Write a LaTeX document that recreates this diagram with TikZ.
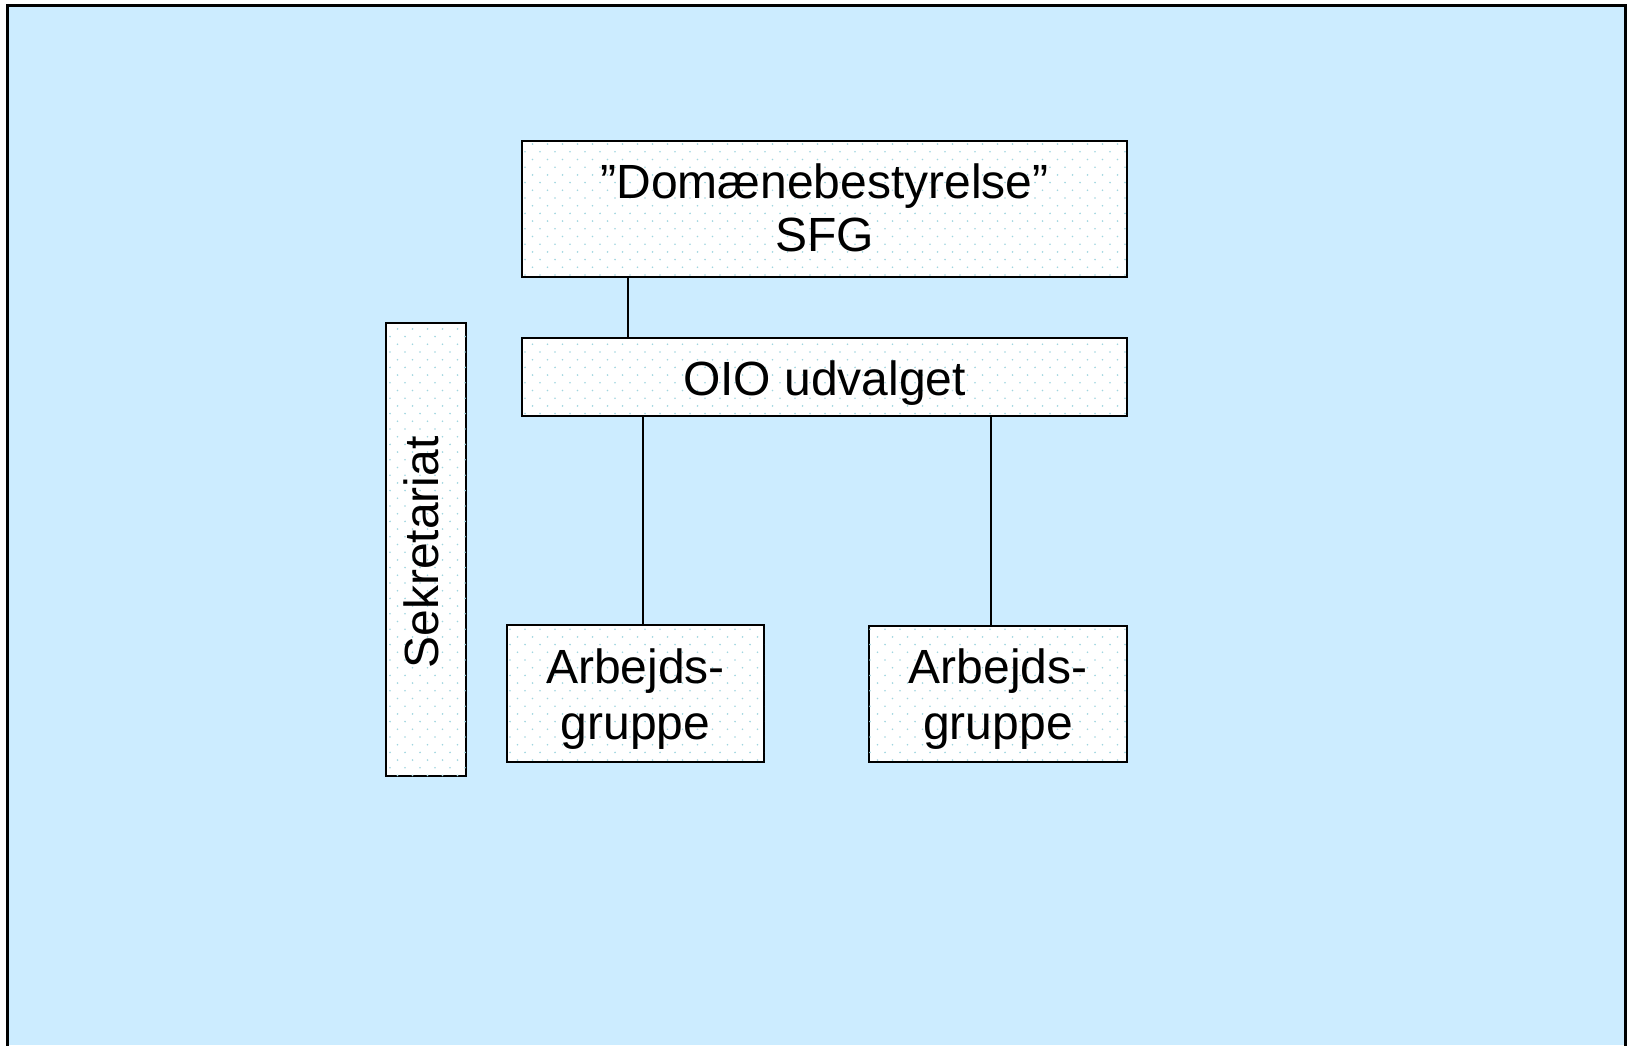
\documentclass[tikz,border=0pt]{standalone}
\usepackage{fontspec}
\setmainfont{Liberation Sans}
\usetikzlibrary{patterns,calc}
\definecolor{bgblue}{RGB}{204,236,255}
\definecolor{dotcol}{RGB}{160,214,224}
\pgfdeclarepatternformonly{sparsedots}{\pgfqpoint{-1pt}{-1pt}}{\pgfqpoint{14pt}{14.4pt}}{\pgfqpoint{15pt}{15.4pt}}{%
  \pgfpathcircle{\pgfqpoint{0pt}{0pt}}{0.9pt}%
  \pgfpathcircle{\pgfqpoint{7.5pt}{7.7pt}}{0.9pt}%
  \pgfusepath{fill}}
\begin{document}
\begin{tikzpicture}[x=1pt,y=-1pt,
  box/.style={draw=black, line width=2pt, fill=white,
    postaction={pattern=sparsedots, pattern color=dotcol},
    inner sep=0pt},
  lbl/.style={inner sep=0pt, anchor=base, font=\fontsize{48}{48}\selectfont},
  link/.style={line width=2pt}]
\useasboundingbox (0,0) rectangle (1627,1045);
\fill[bgblue] (7.5,5) rectangle (1625.5,1045);
\draw[line width=3pt] (7.5,1046) -- (7.5,5) -- (1625.5,5) -- (1625.5,1046);

\node[box, minimum width=605pt, minimum height=136pt] (top) at (824.5,209) {};
\node[box, minimum width=605pt, minimum height=78pt] (oio) at (824.5,377) {};
\node[box, minimum width=80pt, minimum height=453pt] (sek) at (426,549.5) {};
\node[box, minimum width=257pt, minimum height=137pt] (arb1) at (635.5,693.5) {};
\node[box, minimum width=258pt, minimum height=136pt] (arb2) at (998,694) {};

\node[lbl] (topa) at ($(top.center)+(0,-11)$) {”Domænebestyrelse”};
\node[lbl] (topb) at ($(top.center)+(0,42)$) {SFG};
\node[lbl] (oiot) at ($(oio.center)+(0,18)$) {OIO udvalget};
\node[lbl, rotate=90] (sekt) at ($(sek.center)+(12,3)$) {Sekretariat};
\node[lbl] (arb1a) at ($(arb1.center)+(0,-10.5)$) {Arbejds-};
\node[lbl] (arb1b) at ($(arb1.center)+(0,46)$) {gruppe};
\node[lbl] (arb2a) at ($(arb2.center)+(0,-11)$) {Arbejds-};
\node[lbl] (arb2b) at ($(arb2.center)+(0,45.5)$) {gruppe};

\coordinate (c1) at (628,0);
\coordinate (c2) at (643,0);
\coordinate (c3) at (991,0);
\draw[link] (top.south -| c1) -- (oio.north -| c1);
\draw[link] (oio.south -| c2) -- (arb1.north -| c2);
\draw[link] (oio.south -| c3) -- (arb2.north -| c3);
\end{tikzpicture}
\end{document}
